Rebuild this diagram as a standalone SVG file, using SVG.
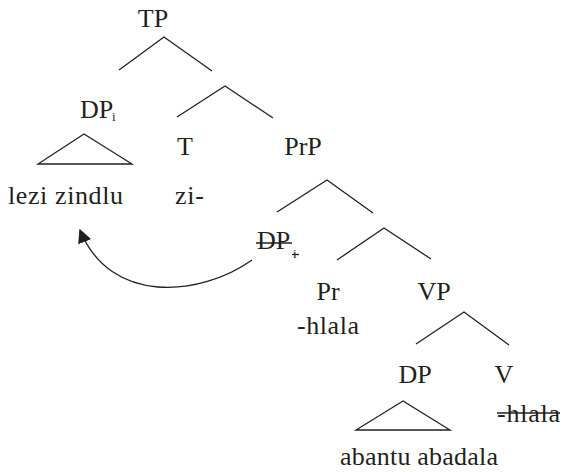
<svg xmlns="http://www.w3.org/2000/svg" width="562" height="472" viewBox="0 0 562 472">
<defs>
<style>
text{font-family:'Liberation Serif',serif;font-size:26px;fill:#231f20}
text.sub{font-size:13px}
.m{text-anchor:middle}
.br{stroke:#231f20;stroke-width:1.3;fill:none}
.st{stroke:#231f20;stroke-width:1.3}
</style>
<marker id="ah" viewBox="0 0 10 10" refX="9" refY="5" markerWidth="14" markerHeight="14" markerUnits="userSpaceOnUse" orient="auto">
<path d="M0,0 L10,5 L0,10 Z" fill="#231f20"/>
</marker>
</defs>
<rect width="562" height="472" fill="#fff"/>
<g id="connectors">
<polyline class="br" points="119,70 164,37 212,71"/>
<polyline class="br" points="177,117 225,86 273,118"/>
<polyline class="br" points="277,212 327,180 373,213"/>
<polyline class="br" points="337,260 384,228 431,259"/>
<polyline class="br" points="416,344 464,312 509,345"/>
<path class="br" d="M252,260 C200,297 110,305 80,230" marker-end="url(#ah)"/>
</g>
<g id="TP"><text class="m" x="153" y="27">TP</text></g>
<g id="DPi"><text x="80" y="118">DP</text><text class="sub" x="112" y="121">i</text></g>
<g id="DPi-tri"><polygon class="br" points="84,134 38,164 132,164"/></g>
<g id="lezi"><text class="m" x="65.5" y="204" textLength="115">lezi zindlu</text></g>
<g id="T"><text class="m" x="185" y="155">T</text></g>
<g id="zi"><text x="175" y="204" textLength="29">zi-</text></g>
<g id="PrP"><text class="m" x="303" y="155">PrP</text></g>
<g id="DPtrace"><text x="257" y="249">DP</text><text class="sub" x="293" y="258">i</text>
<line class="st" x1="256" y1="243" x2="292" y2="243"/><line class="st" x1="292" y1="254.5" x2="299" y2="254.5"/></g>
<g id="Pr"><text class="m" x="328" y="300">Pr</text><text class="m" x="328" y="334" textLength="62">-hlala</text></g>
<g id="VP"><text class="m" x="434" y="300">VP</text></g>
<g id="DP"><text class="m" x="415" y="383">DP</text></g>
<g id="DP-tri"><polygon class="br" points="403,401 356,430 450,430"/></g>
<g id="abantu"><text class="m" x="419" y="465" textLength="158">abantu abadala</text></g>
<g id="V"><text class="m" x="504" y="383">V</text></g>
<g id="Vtrace"><text class="m" x="528.5" y="422" textLength="63">-hlala</text><line class="st" x1="497" y1="413" x2="560" y2="413"/></g>
</svg>
